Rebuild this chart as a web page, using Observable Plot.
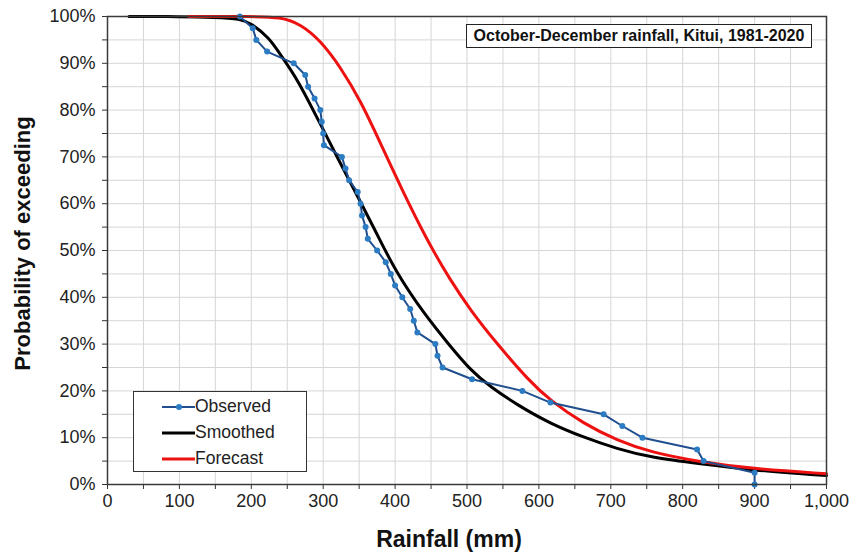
<!DOCTYPE html>
<html>
<head>
<meta charset="utf-8">
<script src="https://cdn.jsdelivr.net/npm/d3@7"></script>
<script src="https://cdn.jsdelivr.net/npm/@observablehq/plot@0.6"></script>
<style>
  html, body { margin: 0; padding: 0; background: #fff; }
  #wrap { position: relative; width: 851px; height: 557px; font-family: "Liberation Sans", Arial, sans-serif; }
  #titlebox { position: absolute; left: 466px; top: 24px; width: 344px; height: 22px; border: 1.5px solid #222;
    font-weight: bold; font-size: 16px; line-height: 22px; text-align: center; color: #111; background: #fff; white-space: nowrap; }
  #legend { position: absolute; left: 133px; top: 391px; width: 172px; height: 79px; border: 1.5px solid #333; background: #fff; }
  .lg { position: absolute; left: 28px; font-size: 17.5px; color: #222; white-space: nowrap; }
  .lg svg { vertical-align: middle; }
</style>
</head>
<body>
<div id="wrap"></div>
<script>
// ---- data ----
const obsRain = [184, 202, 207, 222, 259, 275, 279, 288, 296, 298, 300, 301, 326, 331, 336, 348, 352, 354, 359, 362, 375, 387, 394, 400, 410, 421, 426, 431, 456, 459, 466, 507, 577, 616, 690, 716, 744, 820, 829, 900, 900];
const obsProb = [100, 97.5, 95, 92.5, 90, 87.5, 85, 82.5, 80, 77.5, 75, 72.5, 70, 67.5, 65, 62.5, 60, 57.5, 55, 52.5, 50, 47.5, 45, 42.5, 40, 37.5, 35, 32.5, 30, 27.5, 25, 22.5, 20, 17.5, 15, 12.5, 10, 7.5, 5, 2.5, 0];

const smoothRain = [30, 100, 150, 185, 200, 225, 241, 264, 296, 320, 347, 375, 400, 440, 477, 505, 533, 570, 616, 662, 709, 755, 825, 894, 1000];
const smoothProb = [100, 100, 99.8, 99.5, 98.5, 95.5, 91.7, 86.7, 77, 69.8, 61.8, 53.5, 45.7, 36.5, 29.5, 24.4, 20.8, 17, 13, 10.1, 7.6, 5.8, 4.4, 3.1, 1.9];

const foreRain = [113, 200, 241, 268, 296, 324, 352, 380, 408, 445, 477, 505, 542, 586, 616, 662, 709, 755, 825, 894, 1000];
const foreProb = [100, 100, 99.9, 98.4, 94.9, 89.2, 82, 72.8, 63.5, 52, 43.6, 37.2, 30, 22.2, 17.9, 13, 9.4, 6.9, 4.8, 3.4, 2.3];

const xTicks = [0, 50, 100, 150, 200, 250, 300, 350, 400, 450, 500, 550, 600, 650, 700, 750, 800, 850, 900, 950, 1000];
const yTicks = [0, 5, 10, 15, 20, 25, 30, 35, 40, 45, 50, 55, 60, 65, 70, 75, 80, 85, 90, 95, 100];
const seriesNames = ["Observed", "Smoothed", "Forecast"];
const titleText = "October-December rainfall, Kitui, 1981-2020";
const xLabel = "Rainfall (mm)";
const yLabel = "Probability of exceeding";

const observed = obsRain.map((x, i) => ({x, y: obsProb[i]}));
const smoothed = smoothRain.map((x, i) => ({x, y: smoothProb[i]}));
const forecast = foreRain.map((x, i) => ({x, y: foreProb[i]}));

const colors = {Observed: "#1f4f8f", ObservedDot: "#2b7cc2", Smoothed: "#000000", Forecast: "#ee1111"};

const chart = Plot.plot({
  width: 851,
  height: 557,
  marginLeft: 107,
  marginRight: 25,
  marginTop: 16,
  marginBottom: 73,
  style: {fontFamily: "Liberation Sans, Arial, sans-serif", fontSize: "18px", color: "#222", background: "#fff"},
  x: {domain: [0, 1000]},
  y: {domain: [0, 100]},
  marks: [
    Plot.gridX(xTicks, {stroke: "#d6d6d6", strokeOpacity: 1, strokeWidth: 1}),
    Plot.gridY(yTicks, {stroke: "#d6d6d6", strokeOpacity: 1, strokeWidth: 1}),
    Plot.axisX(xTicks, {tickSize: 5, tickPadding: 5, label: null, stroke: "#333",
      tickFormat: d => d % 100 === 0 ? d3.format(",")(d) : ""}),
    Plot.axisY(yTicks, {tickSize: 5, tickPadding: 7, label: null, stroke: "#333",
      tickFormat: d => d % 10 === 0 ? d + "%" : ""}),
    Plot.line(smoothed, {x: "x", y: "y", stroke: colors.Smoothed, strokeWidth: 3, curve: "basis"}),
    Plot.line(forecast, {x: "x", y: "y", stroke: colors.Forecast, strokeWidth: 3, curve: "basis"}),
    Plot.line(observed, {x: "x", y: "y", stroke: colors.Observed, strokeWidth: 2}),
    Plot.dot(observed, {x: "x", y: "y", fill: colors.ObservedDot, r: 3}),
    Plot.frame({stroke: "#3a3a3a", strokeWidth: 1.5}),
    Plot.text([xLabel], {frameAnchor: "bottom", dx: -18, dy: 62, fontSize: 23, fontWeight: "bold", fill: "#111"}),
    Plot.text([yLabel], {frameAnchor: "left", textAnchor: "middle", rotate: -90, dx: -85, dy: -7, fontSize: 22, fontWeight: "bold", fill: "#111"})
  ]
});

const wrap = document.getElementById("wrap");
wrap.appendChild(chart);

const tb = document.createElement("div");
tb.id = "titlebox";
tb.textContent = titleText;
wrap.appendChild(tb);

const lg = document.createElement("div");
lg.id = "legend";
const legendTops = [4, 30, 56];
seriesNames.forEach((name, i) => {
  const item = document.createElement("div");
  item.className = "lg";
  item.style.left = "28px";
  item.style.top = legendTops[i] + "px";
  const col = name === "Observed" ? colors.Observed : colors[name];
  const sw = name === "Observed" ? 2 : 3;
  const dot = name === "Observed" ? `<circle cx="17" cy="9" r="3" fill="${colors.ObservedDot}"/>` : "";
  item.innerHTML = `<svg width="33" height="18" style="margin-right:0px"><line x1="0" x2="33" y1="9" y2="9" stroke="${col}" stroke-width="${sw}"/>${dot}</svg>${name}`;
  lg.appendChild(item);
});
wrap.appendChild(lg);
</script>
</body>
</html>
